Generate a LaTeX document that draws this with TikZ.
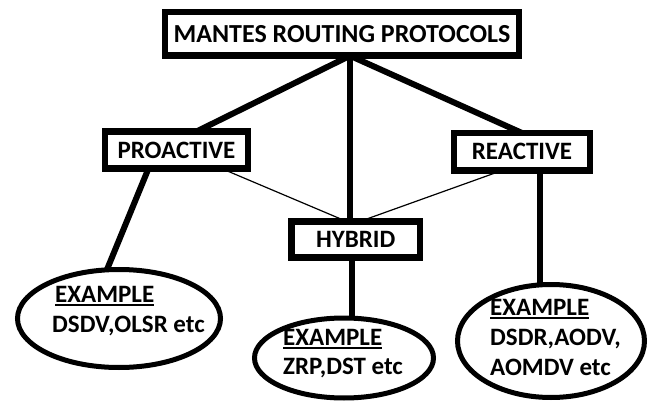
\documentclass[tikz,border=0pt]{standalone}
\usepackage{fontspec}
\setmainfont{Carlito}
\usetikzlibrary{calc,shapes.geometric}
\newcommand\myul[1]{\setbox0\hbox{#1}\rlap{\rule[-3.5pt]{\wd0}{2pt}}\box0}
\begin{document}
\begin{tikzpicture}[x=1pt,y=-1pt,
  box/.style={draw,line width=6.5pt,inner sep=0pt,outer sep=0pt,font=\fontsize{25}{30}\selectfont\bfseries},
  oval/.style={draw,ellipse,line width=5pt,inner sep=0pt,outer sep=0pt},
  thicklink/.style={line width=6pt},
  thinlink/.style={line width=1.2pt},
  lbl/.style={anchor=base west,inner sep=0pt,font=\fontsize{25}{30}\selectfont\bfseries}]
\useasboundingbox (0,0) rectangle (650,403);
% boxes
\node[box,minimum width=354pt,minimum height=43.5pt,font=\fontsize{26}{30}\selectfont\bfseries] (top) at (342,34) {MANTES ROUTING PROTOCOLS};
\node[box,minimum width=143pt,minimum height=37pt] (pro) at (176.5,150) {PROACTIVE};
\node[box,minimum width=136pt,minimum height=37.5pt] (rea) at (522,151.75) {REACTIVE};
\node[box,minimum width=128.5pt,minimum height=36pt] (hyb) at (355.75,239.5) {HYBRID};
% ellipses
\node[oval,minimum width=203pt,minimum height=98pt] (ex1) at (119,318.5) {};
\node[oval,minimum width=179pt,minimum height=80pt] (ex2) at (344,358) {};
\node[oval,minimum width=187pt,minimum height=113pt] (ex3) at (551,341) {};
% connectors
\coordinate (hub) at ($(top.south)+(8,0)$);
\draw[thicklink] (hub) -- ($(pro.north)+(20,0)$);
\draw[thicklink] (hub) -- (rea.north);
\draw[thicklink] (hub) -- (hub |- hyb.north);
\draw[thinlink] ($(pro.south)+(45,0)$) -- ($(hyb.north)+(-9,0)$);
\draw[thinlink] ($(rea.south)+(-20,0)$) -- ($(hyb.north)+(4,0)$);
\draw[thicklink] ($(pro.south)+(-28,0)$) -- ($(ex1.north)+(-12,0)$);
\coordinate (hb) at ($(hyb.south)+(-4,0)$);
\draw[thicklink] (hb) -- (hb |- ex2.north);
\coordinate (rb) at ($(rea.south)+(18,0)$);
\draw[thicklink] (rb) -- (rb |- ex3.north);
% texts
\node[lbl] (t1a) at (55,302) {\myul{EXAMPLE}};
\node[lbl] (t1b) at (52,332) {DSDV,OLSR etc};
\node[lbl] (t2a) at (283,345) {\myul{EXAMPLE}};
\node[lbl] (t2b) at (283,374) {ZRP,DST etc};
\node[lbl] (t3a) at (490,315) {\myul{EXAMPLE}};
\node[lbl] (t3b) at (490,345) {DSDR,AODV,};
\node[lbl] (t3c) at (490,375) {AOMDV etc};
\end{tikzpicture}
\end{document}
